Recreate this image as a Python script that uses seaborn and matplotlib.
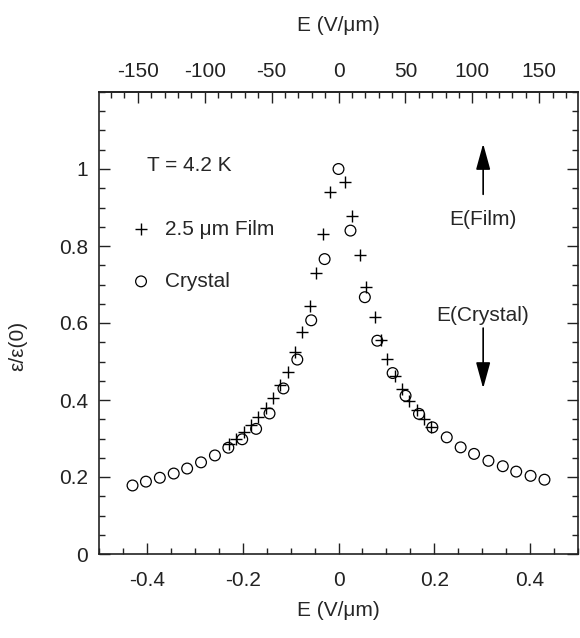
import numpy as np
import pandas as pd
import seaborn as sns
import matplotlib
matplotlib.use("Agg")
import matplotlib.pyplot as plt
from matplotlib.ticker import MultipleLocator, FixedLocator, FuncFormatter

# film field (top axis) per crystal field (bottom axis)
K = 358.0

# crystal: bottom axis E (V/um)
crystal_E = [-0.430, -0.402, -0.373, -0.344, -0.316, -0.287, -0.258, -0.230,
             -0.201, -0.172, -0.144, -0.115, -0.086, -0.057, -0.029, 0.0,
             0.025, 0.055, 0.081, 0.113, 0.140, 0.168, 0.196, 0.226,
             0.255, 0.283, 0.313, 0.343, 0.371, 0.401, 0.430]
crystal_eps = [0.178, 0.188, 0.198, 0.209, 0.222, 0.238, 0.256, 0.276,
               0.298, 0.325, 0.365, 0.430, 0.505, 0.607, 0.766, 1.000,
               0.840, 0.667, 0.554, 0.470, 0.411, 0.364, 0.329, 0.303,
               0.277, 0.260, 0.242, 0.228, 0.214, 0.203, 0.193]

# 2.5 um film: top axis E (V/um)
film_E = [-82, -76.5, -71, -65.5, -60, -54.5, -49, -43.5, -38, -32.3,
          -27.3, -21.6, -16.5, -11.5, -6,
          4.5, 9.8, 15.8, 20.8, 27, 32, 36.6, 42, 47.5, 53, 58.5, 64, 69.5]
film_eps = [0.287, 0.300, 0.318, 0.335, 0.356, 0.380, 0.405, 0.440, 0.474, 0.524,
            0.576, 0.643, 0.729, 0.831, 0.939,
            0.967, 0.879, 0.777, 0.693, 0.615, 0.555, 0.506, 0.462, 0.428,
            0.398, 0.373, 0.350, 0.331]

y_ticks = [0, 0.2, 0.4, 0.6, 0.8, 1.0]
top_ticks = [-150, -100, -50, 0, 50, 100, 150]

df_c = pd.DataFrame({"E": crystal_E, "eps": crystal_eps})
df_f = pd.DataFrame({"E": np.array(film_E) / K, "eps": film_eps})

sns.set_theme(style="ticks")
plt.rcParams["font.family"] = ["Liberation Sans", "DejaVu Sans"]
plt.rcParams["axes.unicode_minus"] = False

fig = plt.figure(figsize=(5.8, 6.38), dpi=100)
ax = fig.add_axes([99 / 580, 1 - 554 / 638, (578 - 99) / 580, (554 - 92) / 638])

sns.scatterplot(data=df_f, x="E", y="eps", marker="+", color="black",
                s=70, linewidth=1.0, ax=ax, label="2.5 \u03bcm Film")
sns.scatterplot(data=df_c, x="E", y="eps", marker="o", facecolor="none",
                edgecolor="black", s=60, linewidth=0.9, ax=ax, label="Crystal")

ax.set_xlim(-0.5, 0.5)
ax.set_ylim(0, 1.2)

fmt = FuncFormatter(lambda v, p: f"{round(v, 2) + 0:g}")
ax.xaxis.set_major_locator(MultipleLocator(0.2))
ax.xaxis.set_minor_locator(MultipleLocator(0.05))
ax.yaxis.set_major_locator(FixedLocator(y_ticks))
ax.yaxis.set_minor_locator(MultipleLocator(0.05))
ax.xaxis.set_major_formatter(fmt)
ax.yaxis.set_major_formatter(fmt)
ax.tick_params(which="both", direction="in", top=False, right=True,
               labelsize=15, width=1.0, colors="#222222")
ax.tick_params(which="major", length=8)
ax.tick_params(which="minor", length=4)
ax.tick_params(axis="x", pad=12)
ax.tick_params(axis="y", pad=8)
for sp in ax.spines.values():
    sp.set_linewidth(1.2)
    sp.set_color("#222222")

ax.set_xlabel("E (V/\u03bcm)", fontsize=15, labelpad=8)
ax.set_ylabel("\u03b5/\u03b5(0)", fontsize=15)
ax.yaxis.set_label_coords(-0.15, 0.45)

top = ax.secondary_xaxis("top", functions=(lambda x: x * K, lambda x: x / K))
top.xaxis.set_major_locator(FixedLocator(top_ticks))
top.xaxis.set_minor_locator(MultipleLocator(10))
top.xaxis.set_major_formatter(fmt)
top.tick_params(which="both", direction="in", labelsize=15, width=1.0,
                colors="#222222", pad=8)
top.tick_params(which="major", length=8)
top.tick_params(which="minor", length=4)
top.spines["top"].set_linewidth(1.2)
top.set_xlabel("E (V/\u03bcm)", fontsize=15, labelpad=22)

ax.text(-0.4, 1.009, "T = 4.2 K", fontsize=15, va="center", ha="left")
ax.legend(loc="upper left", bbox_to_anchor=(0.066, 0.724), frameon=False,
          fontsize=15, handlelength=1.0, handletextpad=0.65,
          labelspacing=1.6, borderpad=0, borderaxespad=0)

arrow = dict(arrowstyle="-|>,head_length=0.8,head_width=0.22",
             color="black", lw=1.2, mutation_scale=20)
ax.annotate("", xy=(0.302, 1.073), xytext=(0.302, 0.927), arrowprops=arrow)
ax.annotate("", xy=(0.302, 0.423), xytext=(0.302, 0.594), arrowprops=arrow)
ax.text(0.301, 0.87, "E(Film)", fontsize=15, ha="center", va="center")
ax.text(0.301, 0.619, "E(Crystal)", fontsize=15, ha="center", va="center")

fig.savefig("out.png", dpi=100)
